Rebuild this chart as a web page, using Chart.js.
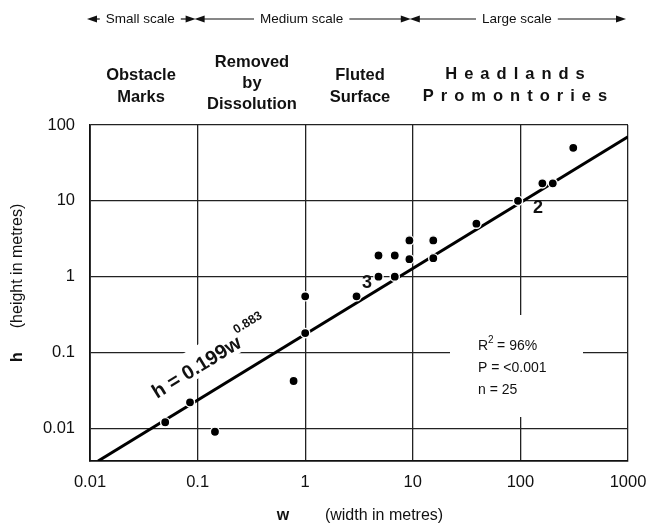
<!DOCTYPE html>
<html>
<head>
<meta charset="utf-8">
<script src="https://cdn.jsdelivr.net/npm/chart.js@4.4.1/dist/chart.umd.min.js"></script>
<style>
  html, body { margin: 0; padding: 0; background: #fff; }
  canvas { display: block; }
</style>
</head>
<body>
<canvas id="chart" width="665" height="526"></canvas>
<script>
// Measured points (w = width, h = height, in metres)
const wData = [0.05, 0.085, 0.145, 0.78, 1.0, 1.0, 3.0, 4.8, 4.8, 6.8, 6.8, 9.3, 9.3, 15.5, 15.5, 39, 95, 160, 200, 310];
const hData = [0.012, 0.022, 0.009, 0.042, 0.18, 0.55, 0.55, 1.0, 1.9, 1.0, 1.9, 1.7, 3.0, 3.0, 1.75, 5.0, 10, 17, 17, 50];

// Regression line h = 0.199w^0.883, end points as drawn
const fitW = [0.0119, 1000];
const fitH = [0.0037, 70];

// Axes
const xTicks = [0.01, 0.1, 1, 10, 100, 1000];
const xTickLabels = ['0.01', '0.1', '1', '10', '100', '1000'];
const yTicks = [0.01, 0.1, 1, 10, 100];
const yTickLabels = ['0.01', '0.1', '1', '10', '100'];

// Scale bands along the top
const bandBounds = [0.01, 0.1, 10, 1000];
const bandLabels = ['Small scale', 'Medium scale', 'Large scale'];

// Feature groups
const groupLabels = [['Obstacle', 'Marks'], ['Removed', 'by', 'Dissolution'], ['Fluted', 'Surface'], ['Headlands', 'Promontories']];
const statsLines = ['= 96%', 'P = <0.001', 'n = 25'];

const FONT = "'Liberation Sans', Arial, Helvetica, sans-serif";
const INK = '#111';

const points = wData.map((w, i) => ({ x: w, y: hData[i] }));
const fitLine = fitW.map((w, i) => ({ x: w, y: fitH[i] }));

function arrowHead(ctx, tipX, y, dir) {
  ctx.beginPath();
  ctx.moveTo(tipX, y);
  ctx.lineTo(tipX - dir * 10, y - 3.5);
  ctx.lineTo(tipX - dir * 10, y + 3.5);
  ctx.closePath();
  ctx.fill();
}

const annotations = {
  id: 'annotations',
  beforeDatasetsDraw(chart) {
    const ctx = chart.ctx;
    ctx.save();
    ctx.fillStyle = '#fff';
    // gaps in the grid behind the stats text
    ctx.fillRect(450, 315, 133, 102);
    // gap behind the equation
    ctx.translate(157, 399);
    ctx.rotate(-0.55);
    ctx.fillRect(-4, -25, 146, 29);
    ctx.restore();
  },
  afterDatasetsDraw(chart) {
    const ctx = chart.ctx;
    const xs = chart.scales.x;
    ctx.save();
    ctx.fillStyle = INK;
    ctx.strokeStyle = INK;

    // equation along the line
    ctx.save();
    ctx.translate(157, 399);
    ctx.rotate(-0.55);
    ctx.font = 'bold 20px ' + FONT;
    ctx.textAlign = 'left';
    ctx.textBaseline = 'alphabetic';
    const eq = 'h = 0.199w';
    ctx.fillText(eq, 0, 0);
    const eqW = ctx.measureText(eq).width;
    ctx.font = 'bold 12.5px ' + FONT;
    ctx.fillText('0.883', eqW + 1, -14);
    ctx.restore();

    // point labels
    ctx.font = 'bold 18px ' + FONT;
    ctx.textAlign = 'center';
    ctx.textBaseline = 'middle';
    ctx.fillText('2', 538, 208);
    ctx.fillText('3', 367, 283);

    // stats block
    ctx.font = '14px ' + FONT;
    ctx.textAlign = 'left';
    ctx.fillText('R', 478, 346);
    const rW = ctx.measureText('R').width;
    ctx.font = '10px ' + FONT;
    ctx.fillText('2', 478 + rW, 340);
    ctx.font = '14px ' + FONT;
    ctx.fillText(statsLines[0], 478 + rW + 9, 346);
    ctx.fillText(statsLines[1], 478, 368);
    ctx.fillText(statsLines[2], 478, 390);

    // axis titles
    ctx.font = 'bold 16px ' + FONT;
    ctx.textAlign = 'center';
    ctx.fillText('w', 283, 516);
    ctx.font = '16px ' + FONT;
    ctx.fillText('(width in metres)', 384, 516);
    ctx.save();
    ctx.translate(18, 0);
    ctx.rotate(-Math.PI / 2);
    ctx.font = 'bold 16px ' + FONT;
    ctx.fillText('h', -357, 0);
    ctx.font = '16px ' + FONT;
    ctx.fillText('(height in metres)', -266, 0);
    ctx.restore();

    // scale bands with arrows
    const bandY = 19;
    ctx.font = '13.5px ' + FONT;
    ctx.lineWidth = 1.2;
    for (let i = 0; i < bandLabels.length; i++) {
      const x1 = xs.getPixelForValue(bandBounds[i]) - 3;
      const x2 = xs.getPixelForValue(bandBounds[i + 1]) - 2;
      const mid = (x1 + x2) / 2 - 1;
      const tw = ctx.measureText(bandLabels[i]).width;
      ctx.fillText(bandLabels[i], mid, bandY);
      const l1 = mid - tw / 2 - 6;
      const r1 = mid + tw / 2 + 6;
      if (l1 - x1 > 10) {
        ctx.beginPath(); ctx.moveTo(x1 + 8, bandY); ctx.lineTo(l1, bandY); ctx.stroke();
      }
      if (x2 - r1 > 10) {
        ctx.beginPath(); ctx.moveTo(r1, bandY); ctx.lineTo(x2 - 8, bandY); ctx.stroke();
      }
      arrowHead(ctx, x1, bandY, -1);
      arrowHead(ctx, x2, bandY, 1);
    }

    // feature group headings
    const groupX = [141, 252, 360, 515];
    const groupY = [[75, 97], [62, 83], [75, 97], [74, 96]];
    ctx.font = 'bold 16.5px ' + FONT;
    groupLabels.forEach((lines, g) => {
      const spaced = g === 3;
      ctx.letterSpacing = spaced ? '7px' : '0px';
      lines.forEach((txt, k) => {
        let y;
        if (lines.length === 3) y = 62 + k * 21;
        else y = groupY[g][k];
        ctx.fillText(txt, groupX[g] + (spaced ? 3.5 : 0), y);
      });
    });
    ctx.letterSpacing = '0px';
    ctx.restore();
  }
};

new Chart(document.getElementById('chart'), {
  type: 'scatter',
  data: {
    datasets: [
      {
        label: 'observations',
        data: points,
        order: 0,
        pointRadius: 4.6,
        pointBackgroundColor: '#000',
        pointBorderColor: '#fff',
        pointBorderWidth: 1.4,
        showLine: false
      },
      {
        label: 'fit',
        data: fitLine,
        order: 1,
        showLine: true,
        borderColor: '#000',
        borderWidth: 3,
        pointRadius: 0
      }
    ]
  },
  options: {
    responsive: false,
    animation: false,
    layout: { padding: { top: 125, right: 37, left: 0, bottom: 0 } },
    plugins: {
      legend: { display: false },
      tooltip: { enabled: false }
    },
    scales: {
      x: {
        type: 'logarithmic',
        min: 0.01,
        max: 1000,
        afterBuildTicks: (scale) => { scale.ticks = xTicks.map(v => ({ value: v })); },
        afterFit: (scale) => { scale.height = 65; },
        ticks: {
          padding: 12,
          color: INK,
          font: { family: FONT, size: 16.5 },
          maxRotation: 0,
          callback: (value, index) => xTickLabels[index]
        },
        grid: { color: '#222', lineWidth: 1.3, drawTicks: false },
        border: { display: true, color: '#111', width: 1.8 }
      },
      y: {
        type: 'logarithmic',
        min: 0.0037,
        max: 100,
        afterBuildTicks: (scale) => { scale.ticks = yTicks.map(v => ({ value: v })); },
        afterFit: (scale) => { scale.width = 90; },
        ticks: {
          padding: 15,
          color: INK,
          font: { family: FONT, size: 16.5 },
          callback: (value, index) => yTickLabels[index]
        },
        grid: { color: '#222', lineWidth: 1.3, drawTicks: false },
        border: { display: true, color: '#111', width: 1.8 }
      }
    }
  },
  plugins: [annotations]
});
</script>
</body>
</html>
